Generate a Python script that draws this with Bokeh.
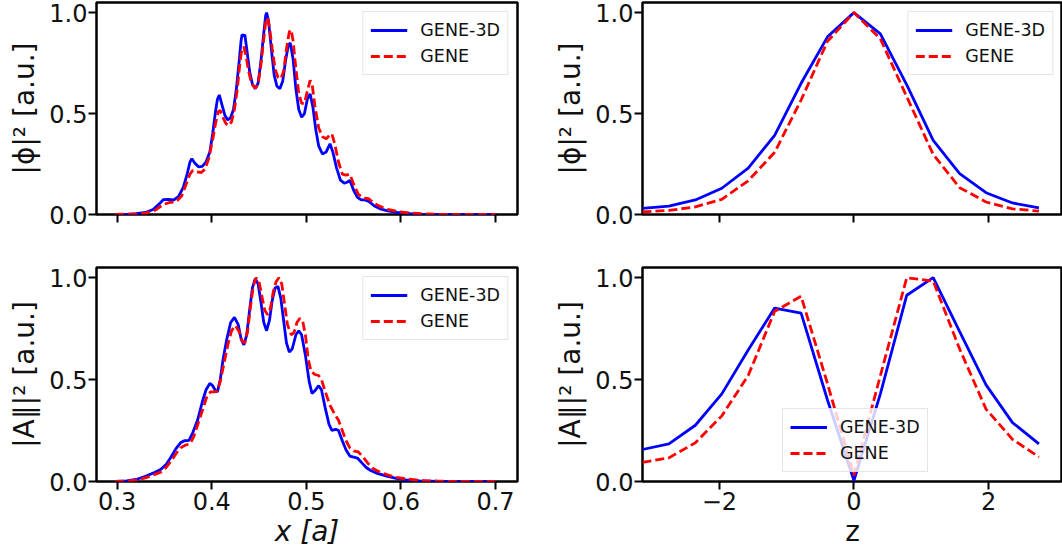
from bokeh.plotting import figure
from bokeh.layouts import column, row
from bokeh.models import Range1d, FixedTicker, NumeralTickFormatter, CustomJSTickFormatter, Legend, LegendItem
from bokeh.embed import file_html
from bokeh.resources import INLINE

# ---------------- data ----------------
# |phi|^2 vs x (radial)
x_phi_3d = [0.298, 0.310, 0.320, 0.330, 0.338, 0.344, 0.349, 0.354, 0.360, 0.365, 0.370, 0.374, 0.377, 0.379,
            0.382, 0.386, 0.390, 0.394, 0.398, 0.401, 0.404, 0.406, 0.408, 0.411, 0.414, 0.417, 0.420, 0.423,
            0.426, 0.429, 0.431, 0.432, 0.434, 0.435, 0.437, 0.440, 0.443, 0.446, 0.449, 0.452, 0.455, 0.457,
            0.458, 0.460, 0.463, 0.466, 0.469, 0.472, 0.475, 0.478, 0.481, 0.483, 0.486, 0.489, 0.492, 0.495,
            0.498, 0.501, 0.504, 0.507, 0.510, 0.513, 0.517, 0.521, 0.525, 0.528, 0.532, 0.536, 0.540, 0.543,
            0.546, 0.550, 0.554, 0.558, 0.562, 0.566, 0.572, 0.578, 0.586, 0.596, 0.610, 0.620, 0.640, 0.660, 0.700]
phi_3d = [0.0, 0.001, 0.004, 0.010, 0.025, 0.050, 0.074, 0.075, 0.072, 0.090, 0.135, 0.200, 0.260, 0.276,
          0.255, 0.236, 0.238, 0.260, 0.310, 0.400, 0.510, 0.570, 0.592, 0.540, 0.490, 0.468, 0.480, 0.520,
          0.620, 0.760, 0.860, 0.890, 0.885, 0.890, 0.820, 0.710, 0.645, 0.623, 0.650, 0.760, 0.900, 0.985,
          1.0, 0.960, 0.820, 0.690, 0.635, 0.623, 0.660, 0.760, 0.840, 0.850, 0.770, 0.620, 0.520, 0.482,
          0.500, 0.570, 0.598, 0.530, 0.420, 0.340, 0.300, 0.310, 0.350, 0.310, 0.230, 0.170, 0.155, 0.160,
          0.168, 0.120, 0.085, 0.072, 0.072, 0.065, 0.042, 0.028, 0.018, 0.010, 0.004, 0.002, 0.0005, 0.0, 0.0]

x_phi_gene = [0.298, 0.320, 0.330, 0.340, 0.349, 0.356, 0.362, 0.368, 0.373, 0.377, 0.380, 0.384, 0.389, 0.393,
              0.397, 0.401, 0.404, 0.407, 0.409, 0.412, 0.415, 0.418, 0.421, 0.424, 0.427, 0.430, 0.432, 0.434,
              0.436, 0.439, 0.442, 0.446, 0.449, 0.452, 0.455, 0.457, 0.459, 0.461, 0.464, 0.467, 0.470, 0.473,
              0.476, 0.479, 0.482, 0.484, 0.486, 0.489, 0.492, 0.495, 0.498, 0.501, 0.504, 0.506, 0.509, 0.513,
              0.517, 0.521, 0.525, 0.527, 0.530, 0.534, 0.538, 0.542, 0.546, 0.550, 0.555, 0.560, 0.566, 0.572,
              0.578, 0.586, 0.596, 0.610, 0.620, 0.640, 0.660, 0.700]
phi_gene = [0.0, 0.003, 0.007, 0.020, 0.050, 0.060, 0.062, 0.090, 0.150, 0.200, 0.218, 0.212, 0.208, 0.225,
            0.280, 0.370, 0.450, 0.510, 0.515, 0.480, 0.450, 0.440, 0.460, 0.520, 0.620, 0.760, 0.820, 0.830,
            0.790, 0.710, 0.650, 0.625, 0.645, 0.740, 0.870, 0.950, 0.975, 0.930, 0.820, 0.720, 0.680, 0.672,
            0.710, 0.820, 0.905, 0.915, 0.860, 0.720, 0.600, 0.550, 0.550, 0.610, 0.664, 0.650, 0.540, 0.430,
            0.385, 0.375, 0.395, 0.400, 0.350, 0.260, 0.200, 0.195, 0.200, 0.150, 0.100, 0.082, 0.078, 0.055,
            0.040, 0.025, 0.015, 0.007, 0.004, 0.001, 0.0, 0.0]

# |A_par|^2 vs x (radial)
x_apar_3d = [0.298, 0.310, 0.320, 0.330, 0.340, 0.346, 0.352, 0.357, 0.362, 0.367, 0.371, 0.376, 0.380, 0.385,
             0.390, 0.394, 0.398, 0.401, 0.404, 0.406, 0.409, 0.412, 0.416, 0.420, 0.424, 0.428, 0.431, 0.434,
             0.437, 0.440, 0.443, 0.446, 0.449, 0.452, 0.455, 0.458, 0.461, 0.464, 0.467, 0.470, 0.473, 0.476,
             0.479, 0.482, 0.485, 0.489, 0.492, 0.495, 0.499, 0.503, 0.506, 0.509, 0.513, 0.516, 0.520, 0.524,
             0.527, 0.531, 0.534, 0.538, 0.542, 0.546, 0.550, 0.554, 0.558, 0.563, 0.568, 0.575, 0.585, 0.595,
             0.605, 0.620, 0.640, 0.660, 0.700]
apar_3d = [0.0, 0.003, 0.010, 0.025, 0.045, 0.059, 0.085, 0.120, 0.160, 0.190, 0.200, 0.202, 0.240, 0.300,
           0.390, 0.450, 0.481, 0.470, 0.445, 0.440, 0.500, 0.600, 0.700, 0.780, 0.805, 0.770, 0.700, 0.670,
           0.720, 0.840, 0.950, 0.995, 0.970, 0.880, 0.780, 0.740, 0.790, 0.890, 0.950, 0.957, 0.900, 0.790,
           0.680, 0.635, 0.650, 0.720, 0.740, 0.720, 0.620, 0.490, 0.432, 0.445, 0.470, 0.450, 0.360, 0.280,
           0.251, 0.256, 0.250, 0.200, 0.155, 0.125, 0.120, 0.115, 0.095, 0.070, 0.054, 0.040, 0.026, 0.015,
           0.008, 0.003, 0.001, 0.0, 0.0]

x_apar_gene = [0.298, 0.310, 0.320, 0.330, 0.340, 0.346, 0.352, 0.357, 0.362, 0.367, 0.372, 0.377, 0.381, 0.386,
               0.391, 0.395, 0.399, 0.403, 0.406, 0.409, 0.413, 0.417, 0.421, 0.425, 0.429, 0.432, 0.435, 0.438,
               0.441, 0.444, 0.447, 0.450, 0.453, 0.456, 0.459, 0.462, 0.465, 0.468, 0.471, 0.474, 0.477, 0.480,
               0.484, 0.487, 0.490, 0.493, 0.496, 0.499, 0.502, 0.505, 0.509, 0.513, 0.516, 0.520, 0.525, 0.530,
               0.534, 0.538, 0.542, 0.546, 0.550, 0.555, 0.560, 0.565, 0.570, 0.578, 0.585, 0.595, 0.605, 0.620,
               0.640, 0.660, 0.700]
apar_gene = [0.0, 0.002, 0.007, 0.018, 0.035, 0.046, 0.070, 0.100, 0.135, 0.165, 0.178, 0.185, 0.220, 0.290,
             0.360, 0.420, 0.440, 0.440, 0.445, 0.490, 0.580, 0.670, 0.740, 0.765, 0.735, 0.690, 0.680, 0.740,
             0.860, 0.960, 1.0, 0.980, 0.910, 0.840, 0.818, 0.850, 0.930, 0.980, 1.0, 0.970, 0.870, 0.770,
             0.720, 0.730, 0.780, 0.800, 0.790, 0.720, 0.600, 0.540, 0.525, 0.520, 0.500, 0.440, 0.374, 0.330,
             0.300, 0.250, 0.200, 0.165, 0.150, 0.145, 0.120, 0.090, 0.065, 0.045, 0.034, 0.020, 0.013, 0.005,
             0.002, 0.0, 0.0]

# parallel structure vs z
z_grid = [-3.142, -2.749, -2.356, -1.963, -1.571, -1.178, -0.785, -0.393, 0.0, 0.393, 0.785, 1.178,
          1.571, 1.963, 2.356, 2.749]
phi_z_3d = [0.030, 0.042, 0.072, 0.130, 0.230, 0.392, 0.650, 0.880, 1.0, 0.895, 0.642, 0.367,
            0.203, 0.108, 0.057, 0.033]
phi_z_gene = [0.013, 0.020, 0.038, 0.075, 0.167, 0.308, 0.567, 0.858, 1.0, 0.870, 0.583, 0.297,
              0.133, 0.062, 0.028, 0.017]
apar_z_3d = [0.157, 0.185, 0.276, 0.430, 0.645, 0.851, 0.826, 0.400, 0.005, 0.430, 0.914, 1.0,
             0.735, 0.474, 0.289, 0.185]
apar_z_gene = [0.094, 0.116, 0.190, 0.322, 0.520, 0.835, 0.909, 0.480, 0.030, 0.520, 1.0, 0.983,
               0.650, 0.355, 0.207, 0.120]

series_labels = ["GENE-3D", "GENE"]
x_ticks = [0.3, 0.4, 0.5, 0.6, 0.7]
z_ticks = [-2, 0, 2]
y_ticks = [0.0, 0.5, 1.0]

# ---------------- styling ----------------
FONT = "DejaVu Sans"
BLUE = "#0000ff"
RED = "#ff0000"


def make_fig(width, height, left, right, top, bottom, xr, ticks, fmt, show_xlabels, xlabel, ylabel,
             xlabel_italic=False):
    p = figure(width=width, height=height, x_range=Range1d(*xr), y_range=Range1d(0, 1.05),
               output_backend="svg", toolbar_location=None,
               min_border_left=left, min_border_right=right, min_border_top=top, min_border_bottom=bottom)
    p.xgrid.visible = False
    p.ygrid.visible = False
    p.outline_line_color = "black"
    p.outline_line_width = 2.5
    p.background_fill_color = "white"
    p.border_fill_color = "white"
    for ax in (p.xaxis[0], p.yaxis[0]):
        ax.axis_line_color = None
        ax.major_tick_line_width = 2
        ax.major_tick_line_color = "black"
        ax.major_tick_out = 8
        ax.major_tick_in = 0
        ax.minor_tick_line_color = None
        ax.major_label_text_font = FONT
        ax.major_label_text_font_size = "24px"
        ax.major_label_text_color = "#111111"
        ax.axis_label_text_font = FONT
        ax.axis_label_text_font_size = "28px"
        ax.axis_label_text_font_style = "normal"
        ax.axis_label_text_color = "#111111"
    p.xaxis.ticker = FixedTicker(ticks=ticks)
    p.yaxis.ticker = FixedTicker(ticks=y_ticks)
    p.yaxis.formatter = NumeralTickFormatter(format="0.0")
    p.yaxis.major_label_standoff = 1
    p.xaxis.major_label_standoff = 2
    p.yaxis.axis_label = ylabel
    p.yaxis.axis_label_standoff = 5
    if show_xlabels:
        p.xaxis.formatter = fmt
        p.xaxis.axis_label = xlabel
        p.xaxis.axis_label_standoff = 2
        if xlabel_italic:
            p.xaxis.axis_label_text_font_style = "italic"
    else:
        # ticks only, no tick labels (shared x axis)
        p.xaxis.major_label_text_font_size = "1px"
        p.xaxis.major_label_text_alpha = 0
        p.xaxis.formatter = CustomJSTickFormatter(code="return '';")
    return p


def add_lines(p, xs1, ys1, xs2, ys2, location):
    r1 = p.line(xs1, ys1, line_color=BLUE, line_width=2.8)
    r2 = p.line(xs2, ys2, line_color=RED, line_width=2.8, line_dash="9 4")
    leg = Legend(items=[LegendItem(label=series_labels[0], renderers=[r1]),
                        LegendItem(label=series_labels[1], renderers=[r2])],
                 location=location)
    leg.margin = 9
    leg.padding = 7
    leg.spacing = 4
    leg.glyph_width = 37
    leg.glyph_height = 22
    leg.label_height = 22
    leg.label_standoff = 13
    leg.label_text_font = FONT
    leg.label_text_font_size = "17.5px"
    leg.label_text_color = "#111111"
    leg.border_line_color = "#cccccc"
    leg.border_line_width = 1
    leg.background_fill_color = "white"
    leg.background_fill_alpha = 0.8
    p.add_layout(leg, "center")
    return p


x_fmt = NumeralTickFormatter(format="0.0")
z_fmt = CustomJSTickFormatter(code="return tick < 0 ? '\\u2212' + Math.abs(tick).toFixed(0) : tick.toFixed(0);")

XR_LEFT = (0.2782, 0.7232)
XR_RIGHT = (-3.1416, -3.1416 + 420 / 67.3)

tl = make_fig(531, 260, 96, 14, 2, 46, XR_LEFT, x_ticks, x_fmt, False, None, "|ϕ|² [a.u.]")
add_lines(tl, x_phi_3d, phi_3d, x_phi_gene, phi_gene, "top_right")

tr = make_fig(531, 260, 111, 0, 2, 46, XR_RIGHT, z_ticks, z_fmt, False, None, "|ϕ|² [a.u.]")
add_lines(tr, z_grid, phi_z_3d, z_grid, phi_z_gene, "top_right")

bl = make_fig(531, 294, 96, 14, 7, 73, XR_LEFT, x_ticks, x_fmt, True, "x [a]", "|A∥|² [a.u.]", xlabel_italic=True)
add_lines(bl, x_apar_3d, apar_3d, x_apar_gene, apar_gene, "top_right")

br = make_fig(531, 294, 111, 0, 7, 73, XR_RIGHT, z_ticks, z_fmt, True, "z", "|A∥|² [a.u.]")
add_lines(br, z_grid, apar_z_3d, z_grid, apar_z_gene, (140, 9))

layout = column(row(tl, tr), row(bl, br))
open("out.html", "w").write(file_html(layout, INLINE))
